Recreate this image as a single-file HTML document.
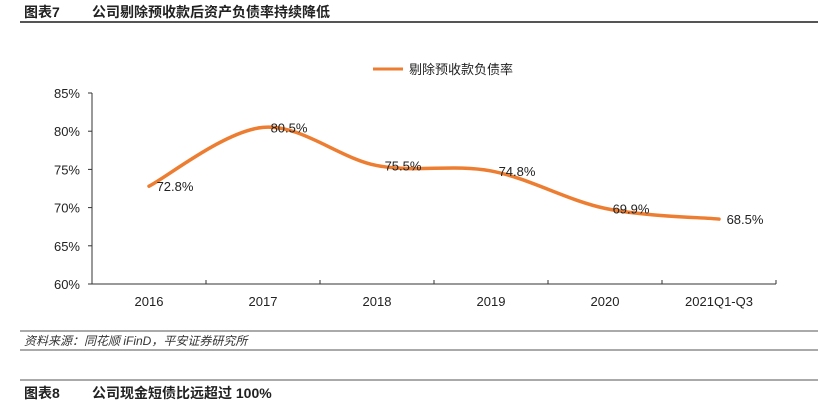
<!DOCTYPE html>
<html><head><meta charset="utf-8"><style>
body{margin:0;background:#fff;width:818px;height:403px;overflow:hidden;font-family:"Liberation Sans","Noto Sans CJK SC",sans-serif}
</style></head><body>
<svg width="818" height="403" font-family="Liberation Sans, Noto Sans CJK SC, sans-serif">
<text x="24" y="17" font-size="14" font-weight="bold" fill="#222">图表7<tspan x="92">公司剔除预收款后资产负债率持续降低</tspan></text>
<line x1="20" y1="22" x2="818" y2="22" stroke="#555" stroke-width="2"/>
<g><line x1="373" y1="69" x2="403" y2="69" stroke="#ED7D31" stroke-width="3"/>
<text x="409" y="74" font-size="13" fill="#222">剔除预收款负债率</text></g>
<g id="axes"></g>
<g id="plot"></g>
<line x1="20" y1="331" x2="818" y2="331" stroke="#555" stroke-width="1"/>
<text x="24" y="345" font-size="12" font-style="italic" fill="#333">资料来源：同花顺 iFinD，平安证券研究所</text>
<line x1="20" y1="350" x2="818" y2="350" stroke="#555" stroke-width="1"/>
<line x1="20" y1="380" x2="818" y2="380" stroke="#555" stroke-width="1"/>
<text x="24" y="398" font-size="14" font-weight="bold" fill="#222">图表8<tspan x="92">公司现金短债比远超过 100%</tspan></text>
</svg>
<script>
const categories=["2016","2017","2018","2019","2020","2021Q1-Q3"];
const values=[72.8,80.5,75.5,74.8,69.9,68.5];
const yTicks=[60,65,70,75,80,85];
const NS="http://www.w3.org/2000/svg";
const X0=92,X1=776,Y0=284,Y1=93,YMIN=60,YMAX=85;
const band=(X1-X0)/categories.length;
const xs=i=>X0+band*(i+0.5);
const ys=v=>Y0-(v-YMIN)/(YMAX-YMIN)*(Y0-Y1);
function mk(t,a,p){const e=document.createElementNS(NS,t);for(const k in a)e.setAttribute(k,a[k]);p.appendChild(e);return e;}
const ax=document.getElementById('axes'),pl=document.getElementById('plot');
let e=mk('line',{x1:X0,y1:Y1,x2:X0,y2:Y0,stroke:'#333'},ax);


e=mk('line',{x1:X0,y1:Y0,x2:X1,y2:Y0,stroke:'#333'},ax);


yTicks.forEach(v=>{
 const t=mk('line',{x1:X0-4,y1:ys(v),x2:X0,y2:ys(v),stroke:'#333'},ax);
 
 
 const l=mk('text',{x:X0-12,y:ys(v)+5,'text-anchor':'end','font-size':13,fill:'#222'},ax);
 l.textContent=v+'%';
 
 
});
for(let i=0;i<=categories.length;i++){
 const t=mk('line',{x1:X0+band*i,y1:Y0,x2:X0+band*i,y2:Y0-4,stroke:'#333'},ax);
 
 
}
categories.forEach((c,i)=>{
 const l=mk('text',{x:xs(i),y:Y0+22,'text-anchor':'middle','font-size':13,fill:'#222'},ax);
 l.textContent=c;
 
 
});
const P=values.map((v,i)=>[xs(i),ys(v)]);
let d='M'+P[0][0]+','+P[0][1];
for(let i=0;i<P.length-1;i++){
 const p0=P[Math.max(0,i-1)],p1=P[i],p2=P[i+1],p3=P[Math.min(P.length-1,i+2)];
 const k=1/6;
 d+=` C${p1[0]+(p2[0]-p0[0])*k},${p1[1]+(p2[1]-p0[1])*k} ${p2[0]-(p3[0]-p1[0])*k},${p2[1]-(p3[1]-p1[1])*k} ${p2[0]},${p2[1]}`;
}
e=mk('path',{d:d,fill:'none',stroke:'#ED7D31','stroke-width':3.5,'stroke-linecap':'round'},pl);


values.forEach((v,i)=>{
 const l=mk('text',{x:xs(i)+26,y:ys(v)+5,'text-anchor':'middle','font-size':13,fill:'#222'},pl);
 l.textContent=v.toFixed(1)+'%';
 
 
});
</script>
</body></html>
